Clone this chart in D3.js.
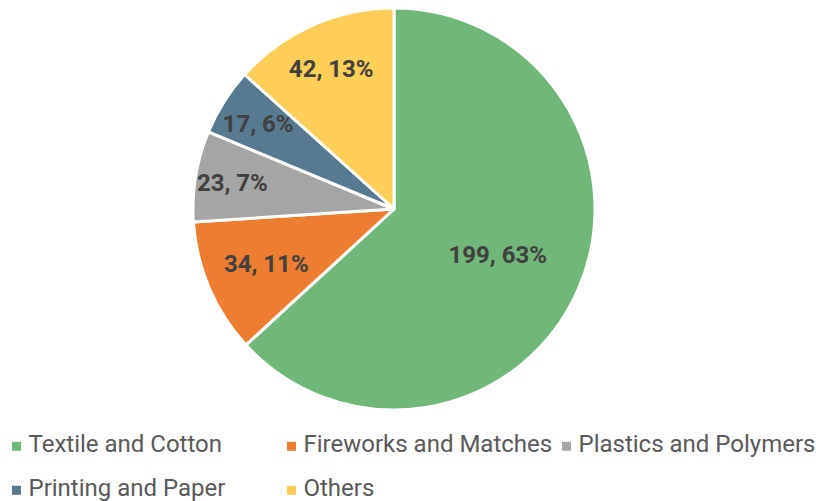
<!DOCTYPE html>
<html>
<head>
<meta charset="utf-8">
<script src="https://cdn.jsdelivr.net/npm/d3@7"></script>
<style>
  html, body { margin: 0; padding: 0; background: #fff; }
  svg { display: block; font-family: Roboto, "Noto Sans", sans-serif; }
</style>
</head>
<body>
<svg id="chart" width="816" height="501"></svg>
<script>
// Industry breakdown: counts and their shares
const categories = ["Textile and Cotton", "Fireworks and Matches", "Plastics and Polymers", "Printing and Paper", "Others"];
const values = [199, 34, 23, 17, 42];
const percents = [63, 11, 7, 6, 13];
const colors = ["#71B77A", "#ED7D31", "#A5A5A5", "#587A90", "#FFCE57"];

const svg = d3.select("#chart");
const cx = 394, cy = 209, R = 201;

const data = categories.map((c, i) => ({ name: c, value: values[i], pct: percents[i], color: colors[i] }));

const pie = d3.pie().value(d => d.value).sort(null);
const arcs = pie(data);
const arc = d3.arc().innerRadius(0).outerRadius(R);

const g = svg.append("g").attr("transform", `translate(${cx},${cy})`);

g.selectAll("path.slice")
  .data(arcs)
  .join("path")
  .attr("class", "slice")
  .attr("d", arc)
  .attr("fill", d => d.data.color)
  .attr("stroke", "#fff")
  .attr("stroke-width", 3)
  .attr("stroke-linejoin", "round");

// label distance from centre, as a share of the radius (narrow slices push outward)
const labelFrac = [0.564, 0.691, 0.815, 0.80, 0.768];
g.selectAll("text.lbl")
  .data(arcs)
  .join("text")
  .attr("class", "lbl")
  .attr("transform", (d, i) => {
    const a = (d.startAngle + d.endAngle) / 2;
    const r = R * labelFrac[i];
    return `translate(${r * Math.sin(a)},${-r * Math.cos(a)})`;
  })
  .attr("text-anchor", "middle")
  .attr("dy", "0.355em")
  .attr("font-size", 24)
  .attr("font-weight", "bold")
  .attr("fill", "#404040")
  .text(d => `${d.data.value}, ${d.data.pct}%`);

// Legend: two rows (x of marker, text baseline)
const legendPos = [[12, 452.3], [287, 452.3], [562, 452.3], [12, 496.3], [287, 496.3]];
const leg = svg.selectAll("g.leg")
  .data(data)
  .join("g")
  .attr("class", "leg")
  .attr("transform", (d, i) => `translate(${legendPos[i][0]},${legendPos[i][1]})`);
leg.append("rect")
  .attr("x", 0).attr("y", -10.5)
  .attr("width", 9).attr("height", 9)
  .attr("fill", d => d.color);
leg.append("text")
  .attr("x", 16.5)
  .attr("font-size", 24)
  .attr("fill", "#595959")
  .text(d => d.name);
</script>
</body>
</html>
